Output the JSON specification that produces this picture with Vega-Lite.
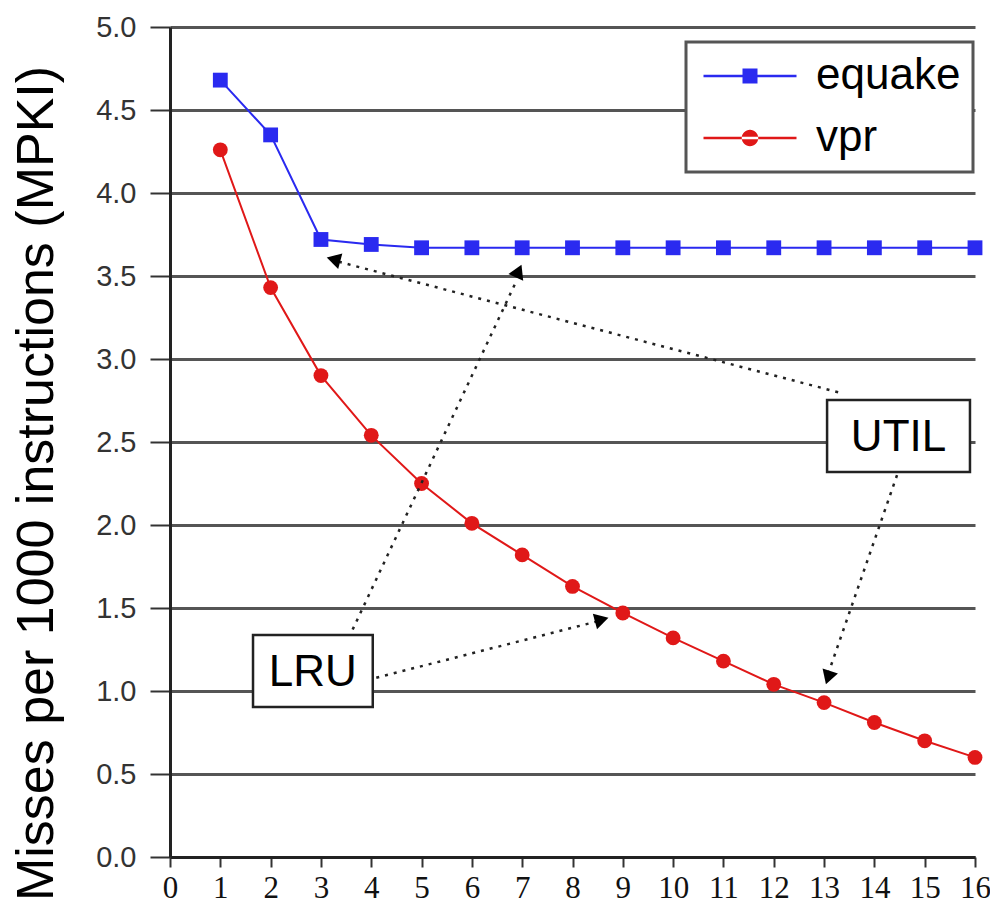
{
  "$schema": "https://vega.github.io/schema/vega-lite/v6.json",
  "width": 805,
  "height": 830,
  "autosize": "none",
  "padding": {"left": 170, "top": 27, "right": 15, "bottom": 51},
  "background": "white",
  "config": {"view": {"stroke": null}, "font": "Liberation Sans"},
  "datasets": {
    "series": [
      {"ways": 1, "mpki": 4.68, "app": "equake"},
      {"ways": 2, "mpki": 4.35, "app": "equake"},
      {"ways": 3, "mpki": 3.72, "app": "equake"},
      {"ways": 4, "mpki": 3.69, "app": "equake"},
      {"ways": 5, "mpki": 3.67, "app": "equake"},
      {"ways": 6, "mpki": 3.67, "app": "equake"},
      {"ways": 7, "mpki": 3.67, "app": "equake"},
      {"ways": 8, "mpki": 3.67, "app": "equake"},
      {"ways": 9, "mpki": 3.67, "app": "equake"},
      {"ways": 10, "mpki": 3.67, "app": "equake"},
      {"ways": 11, "mpki": 3.67, "app": "equake"},
      {"ways": 12, "mpki": 3.67, "app": "equake"},
      {"ways": 13, "mpki": 3.67, "app": "equake"},
      {"ways": 14, "mpki": 3.67, "app": "equake"},
      {"ways": 15, "mpki": 3.67, "app": "equake"},
      {"ways": 16, "mpki": 3.67, "app": "equake"},
      {"ways": 1, "mpki": 4.26, "app": "vpr"},
      {"ways": 2, "mpki": 3.43, "app": "vpr"},
      {"ways": 3, "mpki": 2.9, "app": "vpr"},
      {"ways": 4, "mpki": 2.54, "app": "vpr"},
      {"ways": 5, "mpki": 2.25, "app": "vpr"},
      {"ways": 6, "mpki": 2.01, "app": "vpr"},
      {"ways": 7, "mpki": 1.82, "app": "vpr"},
      {"ways": 8, "mpki": 1.63, "app": "vpr"},
      {"ways": 9, "mpki": 1.47, "app": "vpr"},
      {"ways": 10, "mpki": 1.32, "app": "vpr"},
      {"ways": 11, "mpki": 1.18, "app": "vpr"},
      {"ways": 12, "mpki": 1.04, "app": "vpr"},
      {"ways": 13, "mpki": 0.93, "app": "vpr"},
      {"ways": 14, "mpki": 0.81, "app": "vpr"},
      {"ways": 15, "mpki": 0.7, "app": "vpr"},
      {"ways": 16, "mpki": 0.6, "app": "vpr"}
    ],
    "boxes": [
      {"label": "LRU", "x1": 1.65, "x2": 4.03, "y1": 1.337, "y2": 0.904, "cx": 2.84, "cy": 1.12},
      {"label": "UTIL", "x1": 13.06, "x2": 15.9, "y1": 2.753, "y2": 2.319, "cx": 14.48, "cy": 2.536}
    ],
    "arrows": [
      {"id": "a1", "x1": 3.63, "y1": 1.37, "x2": 6.9, "y2": 3.48, "tx": 6.93, "ty": 3.53},
      {"id": "a2", "x1": 4.1, "y1": 1.08, "x2": 8.5, "y2": 1.42, "tx": 8.58, "ty": 1.43},
      {"id": "a3", "x1": 13.28, "y1": 2.8, "x2": 3.3, "y2": 3.59, "tx": 3.25, "ty": 3.6},
      {"id": "a4", "x1": 14.45, "y1": 2.3, "x2": 13.1, "y2": 1.12, "tx": 13.08, "ty": 1.08}
    ]
  },
  "layer": [
    {
      "data": {"name": "series"},
      "mark": {"type": "line", "strokeWidth": 2},
      "encoding": {
        "x": {
          "field": "ways", "type": "quantitative",
          "scale": {"domain": [0, 16], "nice": false},
          "axis": {
            "values": [0, 1, 2, 3, 4, 5, 6, 7, 8, 9, 10, 11, 12, 13, 14, 15, 16],
            "title": null, "grid": false,
            "tickColor": "#333", "tickSize": 10, "tickWidth": 2,
            "domainColor": "#222", "domainWidth": 3,
            "labelFont": "Liberation Serif", "labelFontSize": 31, "labelColor": "#111",
            "labelPadding": 6, "labelFlush": false
          }
        },
        "y": {
          "field": "mpki", "type": "quantitative",
          "scale": {"domain": [0, 5], "nice": false},
          "axis": {
            "values": [0, 0.5, 1, 1.5, 2, 2.5, 3, 3.5, 4, 4.5, 5],
            "format": ".1f",
            "title": "Misses per 1000 instructions (MPKI)",
            "titleFontSize": 52, "titleFontWeight": "normal", "titleColor": "black",
            "titleAngle": -90, "titleX": -134, "titleY": 456,
            "titleAlign": "center", "titleBaseline": "middle",
            "grid": true, "gridColor": "#555", "gridWidth": 3,
            "tickColor": "#333", "tickSize": 20, "tickWidth": 2,
            "domainColor": "#222", "domainWidth": 3,
            "labelFontSize": 29, "labelColor": "#333", "labelPadding": 14, "labelFlush": false
          }
        },
        "color": {
          "field": "app", "type": "nominal",
          "scale": {"domain": ["equake", "vpr"], "range": ["#2a2af0", "#e01818"]},
          "legend": {
            "title": null, "orient": "none", "legendX": 516, "legendY": 15,
            "strokeColor": "#555", "fillColor": "white",
            "padding": 12, "labelFontSize": 44, "labelColor": "black",
            "labelFont": "Liberation Sans", "labelOffset": 44, "symbolOffset": 30,
            "symbolSize": 900, "rowPadding": 18,
            "encode": {
              "legend": {"update": {"strokeWidth": {"value": 3}}},
              "symbols": {
                "update": {
                  "shape": {"signal": "datum.value === 'equake' ? 'M-3.1,-0.08H3.1V0.08H-3.1Z M-0.5,-0.5H0.5V0.5H-0.5Z' : 'M-3.1,-0.08H3.1V0.08H-3.1Z M-0.55,0A0.55,0.55 0 1,0 0.55,0A0.55,0.55 0 1,0 -0.55,0Z'"},
                  "fill": {"signal": "datum.value === 'equake' ? '#1a1ae8' : '#e01818'"},
                  "fillOpacity": {"value": 1},
                  "strokeWidth": {"value": 0}
                }
              }
            }
          }
        }
      }
    },
    {
      "data": {"name": "series"},
      "transform": [{"filter": "datum.app === 'equake'"}],
      "mark": {"type": "point", "shape": "square", "filled": true, "opacity": 1, "size": 220},
      "encoding": {
        "x": {"field": "ways", "type": "quantitative"},
        "y": {"field": "mpki", "type": "quantitative"},
        "color": {"field": "app", "type": "nominal"}
      }
    },
    {
      "data": {"name": "series"},
      "transform": [{"filter": "datum.app === 'vpr'"}],
      "mark": {"type": "point", "shape": "circle", "filled": true, "opacity": 1, "size": 220},
      "encoding": {
        "x": {"field": "ways", "type": "quantitative"},
        "y": {"field": "mpki", "type": "quantitative"},
        "color": {"field": "app", "type": "nominal"}
      }
    },
    {
      "data": {"name": "arrows"},
      "mark": {"type": "rule", "strokeDash": [3, 6], "strokeWidth": 2.5, "color": "#222"},
      "encoding": {
        "x": {"field": "x1", "type": "quantitative"},
        "y": {"field": "y1", "type": "quantitative"},
        "x2": {"field": "x2"},
        "y2": {"field": "y2"}
      }
    },
    {
      "data": {"name": "arrows"},
      "transform": [{"filter": "datum.id === 'a1'"}],
      "mark": {"type": "point", "shape": "triangle-up", "filled": true, "color": "black", "opacity": 1, "size": 260, "angle": 24},
      "encoding": {"x": {"field": "tx", "type": "quantitative"}, "y": {"field": "ty", "type": "quantitative"}}
    },
    {
      "data": {"name": "arrows"},
      "transform": [{"filter": "datum.id === 'a2'"}],
      "mark": {"type": "point", "shape": "triangle-up", "filled": true, "color": "black", "opacity": 1, "size": 260, "angle": 75},
      "encoding": {"x": {"field": "tx", "type": "quantitative"}, "y": {"field": "ty", "type": "quantitative"}}
    },
    {
      "data": {"name": "arrows"},
      "transform": [{"filter": "datum.id === 'a3'"}],
      "mark": {"type": "point", "shape": "triangle-up", "filled": true, "color": "black", "opacity": 1, "size": 260, "angle": 285},
      "encoding": {"x": {"field": "tx", "type": "quantitative"}, "y": {"field": "ty", "type": "quantitative"}}
    },
    {
      "data": {"name": "arrows"},
      "transform": [{"filter": "datum.id === 'a4'"}],
      "mark": {"type": "point", "shape": "triangle-up", "filled": true, "color": "black", "opacity": 1, "size": 260, "angle": 198},
      "encoding": {"x": {"field": "tx", "type": "quantitative"}, "y": {"field": "ty", "type": "quantitative"}}
    },
    {
      "data": {"name": "boxes"},
      "mark": {"type": "rect", "fill": "white", "stroke": "#222", "strokeWidth": 2.5},
      "encoding": {
        "x": {"field": "x1", "type": "quantitative"},
        "x2": {"field": "x2"},
        "y": {"field": "y1", "type": "quantitative"},
        "y2": {"field": "y2"}
      }
    },
    {
      "data": {"name": "boxes"},
      "mark": {"type": "text", "fontSize": 44, "font": "Liberation Sans", "color": "black", "baseline": "middle", "align": "center", "dy": 2},
      "encoding": {
        "x": {"field": "cx", "type": "quantitative"},
        "y": {"field": "cy", "type": "quantitative"},
        "text": {"field": "label"}
      }
    }
  ]
}
